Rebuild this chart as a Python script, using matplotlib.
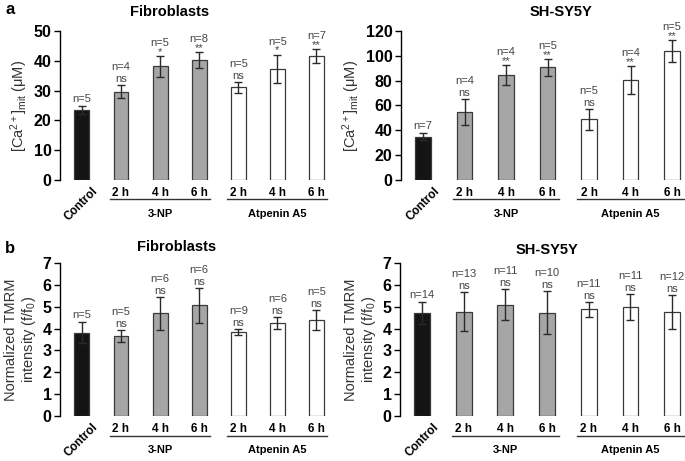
import matplotlib
matplotlib.use('Agg')
from matplotlib import pyplot as plt

plt.rcParams['font.family'] = ['Liberation Sans', 'DejaVu Sans']
plt.rcParams['mathtext.fontset'] = 'custom'
plt.rcParams['mathtext.rm'] = 'Liberation Sans'
plt.rcParams['mathtext.it'] = 'Liberation Sans:italic'

# bar order: Control, 3-NP 2/4/6 h, Atpenin A5 2/4/6 h
time_labels = ['2 h', '4 h', '6 h', '2 h', '4 h', '6 h']
groups = ['3-NP', 'Atpenin A5']

fib_ca = [23.5, 29.6, 38.1, 40.3, 31.1, 37.4, 41.6]
fib_ca_err = [1.2, 2.2, 3.6, 2.7, 1.9, 4.7, 2.2]
fib_ca_n = ['n=5', 'n=4', 'n=5', 'n=8', 'n=5', 'n=5', 'n=7']
fib_ca_sig = ['', 'ns', '*', '**', 'ns', '*', '**']

sh_ca = [34.9, 54.8, 84.6, 90.7, 48.9, 80.3, 103.9]
sh_ca_err = [2.7, 10.8, 8.2, 6.8, 8.4, 11.4, 8.9]
sh_ca_n = ['n=7', 'n=4', 'n=4', 'n=5', 'n=5', 'n=4', 'n=5']
sh_ca_sig = ['', 'ns', '**', '**', 'ns', '**', '**']

fib_tmrm = [3.80, 3.65, 4.69, 5.07, 3.85, 4.25, 4.40]
fib_tmrm_err = [0.48, 0.28, 0.74, 0.80, 0.15, 0.29, 0.47]
fib_tmrm_n = ['n=5', 'n=5', 'n=6', 'n=6', 'n=9', 'n=6', 'n=5']
fib_tmrm_sig = ['', 'ns', 'ns', 'ns', 'ns', 'ns', 'ns']

sh_tmrm = [4.73, 4.78, 5.10, 4.73, 4.88, 4.98, 4.76]
sh_tmrm_err = [0.50, 0.90, 0.70, 0.97, 0.33, 0.60, 0.76]
sh_tmrm_n = ['n=14', 'n=13', 'n=11', 'n=10', 'n=11', 'n=11', 'n=12']
sh_tmrm_sig = ['', 'ns', 'ns', 'ns', 'ns', 'ns', 'ns']

W, H = 685, 461
fig = plt.figure(figsize=(W / 100, H / 100), dpi=100)

bar_colors = ['#141414', '#a6a6a6', '#a6a6a6', '#a6a6a6', 'white', 'white', 'white']


def make_ax(x0, x1, ytop, ybot):
    return fig.add_axes([x0 / W, 1 - ybot / H, (x1 - x0) / W, (ybot - ytop) / H])


def draw_panel(ax, vals, errs, ns, sigs, ymax, yticks, xlim, title, title_x, title_y, ylabel):
    pos = list(range(len(vals)))
    ax.bar(pos, vals, width=0.38, color=bar_colors, edgecolor='#3a3a3a', linewidth=0.9, zorder=2)
    ax.errorbar(pos, vals, yerr=errs, fmt='none', ecolor='#2a2a2a', elinewidth=1.0,
                capsize=3, capthick=1.0, zorder=3)
    ax.set_xlim(*xlim)
    ax.set_ylim(0, ymax)
    ax.set_yticks(yticks)
    ax.set_xticks([])
    for s in ['top', 'right', 'bottom']:
        ax.spines[s].set_visible(False)
    ax.spines['left'].set_linewidth(1.0)
    ax.tick_params(axis='y', length=4, width=1.0, labelsize=11.5, pad=2)
    for lab in ax.get_yticklabels():
        lab.set_fontweight('bold')
    ax.set_ylabel(ylabel, fontsize=10.5, color='#333333', labelpad=3)

    for p, v, e, n, sg in zip(pos, vals, errs, ns, sigs):
        top = v + e
        if sg:
            if sg.startswith('*'):
                off_s, off_n = -1, 9
            else:
                off_s, off_n = 1, 12
            ax.annotate(sg, (p, top), xytext=(0, off_s), textcoords='offset pixels',
                        ha='center', va='bottom', fontsize=8, color='#444444', clip_on=False)
            ax.annotate(n, (p, top), xytext=(0, off_s + off_n), textcoords='offset pixels',
                        ha='center', va='bottom', fontsize=8, color='#444444', clip_on=False)
        else:
            ax.annotate(n, (p, top), xytext=(0, 2), textcoords='offset pixels',
                        ha='center', va='bottom', fontsize=8, color='#444444', clip_on=False)

    # x labels below the axis
    trans = ax.get_xaxis_transform()
    hpx = ax.get_position().height * H

    def below(px):
        return -px / hpx

    ax.text(0.25, below(5), 'Control', transform=trans, rotation=45, ha='right', va='top',
            rotation_mode='anchor', fontsize=8.5, fontweight='bold')
    for p, lab in zip(pos[1:], time_labels):
        ax.text(p, below(13), lab, transform=trans, ha='center', va='center',
                fontsize=8.5, fontweight='bold')
    for gi, g in enumerate(groups):
        a, b = 1 + 3 * gi, 3 + 3 * gi
        ax.plot([a - 0.28, b + 0.28], [below(19.5)] * 2, transform=trans, color='#333333',
                linewidth=1.0, clip_on=False)
        ax.text((a + b) / 2, below(34), g, transform=trans, ha='center', va='center',
                fontsize=8, fontweight='bold')

    fig.text(title_x / W, 1 - title_y / H, title, ha='center', va='center',
             fontsize=10.5, fontweight='bold')


ca_label = '[Ca$^{2+}$]$_{\\mathrm{mit}}$ (μM)'
tm_label = 'Normalized TMRM\nintensity (f/f$_{\\mathrm{0}}$)'

ax1 = make_ax(60, 336, 31, 180)
draw_panel(ax1, fib_ca, fib_ca_err, fib_ca_n, fib_ca_sig, 50, range(0, 51, 10),
           (-0.56, 6.5), 'Fibroblasts', 170, 12, ca_label)

ax2 = make_ax(401, 685, 31, 180)
draw_panel(ax2, sh_ca, sh_ca_err, sh_ca_n, sh_ca_sig, 120, range(0, 121, 20),
           (-0.53, 6.31), 'SH-SY5Y', 561, 12, ca_label)

ax3 = make_ax(60, 336, 263, 416)
draw_panel(ax3, fib_tmrm, fib_tmrm_err, fib_tmrm_n, fib_tmrm_sig, 7, range(0, 8),
           (-0.56, 6.5), 'Fibroblasts', 177, 247, tm_label)

ax4 = make_ax(400, 685, 263, 416)
draw_panel(ax4, sh_tmrm, sh_tmrm_err, sh_tmrm_n, sh_tmrm_sig, 7, range(0, 8),
           (-0.53, 6.31), 'SH-SY5Y', 547, 250, tm_label)

fig.text(5 / W, 1 - 10 / H, 'a', fontsize=12, fontweight='bold', ha='left', va='center')
fig.text(5 / W, 1 - 248 / H, 'b', fontsize=12, fontweight='bold', ha='left', va='center')

fig.savefig('out.png', dpi=100)
